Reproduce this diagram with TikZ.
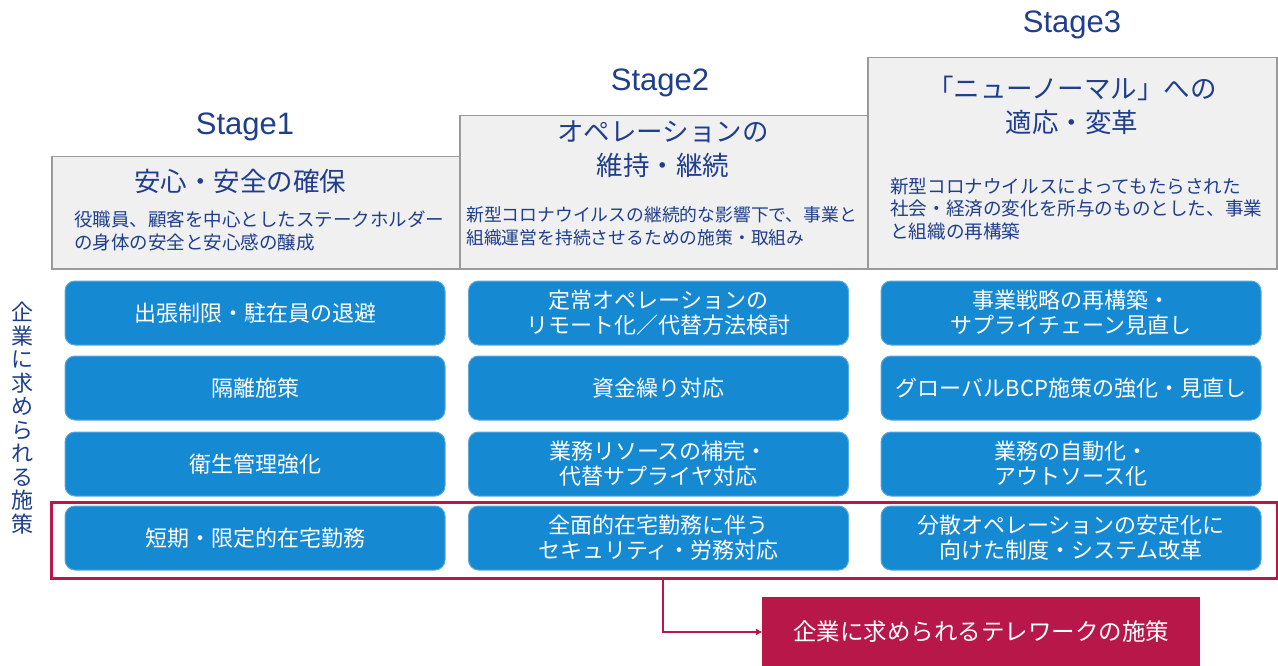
\documentclass[tikz,border=0pt]{standalone}
\usepackage{fontspec}
\setmainfont{Noto Sans CJK JP}
\newfontfamily\stagefont{Liberation Sans}
\usetikzlibrary{arrows.meta}
\definecolor{navy}{HTML}{1F3E8C}
\definecolor{bluebox}{HTML}{1689D3}
\definecolor{blueedge}{HTML}{5AA8E0}
\definecolor{grayfill}{HTML}{F0F0F0}
\definecolor{grayedge}{HTML}{9A9A9A}
\definecolor{crimson}{HTML}{B8174A}
\tikzset{
  graybox/.style={draw=grayedge, line width=1.5pt, fill=grayfill, anchor=north west, inner sep=0pt},
  stagelbl/.style={text=navy, font=\stagefont\fontsize{31pt}{34pt}\selectfont, inner sep=0pt},
  ttl/.style={text=navy, align=center, font=\fontsize{26.5pt}{34pt}\selectfont, inner sep=0pt},
  subtxt/.style={text=navy, align=left, anchor=west, inner sep=0pt, font=\fontsize{18.5pt}{23.5pt}\selectfont},
  bbox/.style={draw=blueedge, line width=1pt, fill=bluebox, rounded corners=10pt, minimum width=380pt, minimum height=64pt, text=white, align=center, inner sep=0pt, font=\fontsize{22pt}{25pt}\selectfont},
  redline/.style={draw=crimson, line width=2pt},
}
\begin{document}
\begin{tikzpicture}[x=1pt,y=-1pt]
\useasboundingbox (0,0) rectangle (1278,666);
% stage labels
\node[stagelbl] (st1) at (245,127) {Stage1};
\node[stagelbl] (st2) at (660,83) {Stage2};
\node[stagelbl] (st3) at (1072,25) {Stage3};
% gray boxes
\node[graybox, minimum width=408pt, minimum height=112pt] (g1) at (51,156) {};
\node[graybox, minimum width=408pt, minimum height=153pt] (g2) at (459,115) {};
\node[graybox, minimum width=409pt, minimum height=211pt] (g3) at (867,57) {};
% titles
\node[ttl] (t1) at (240,181) {安心・安全の確保};
\node[ttl] (t2) at (663,149) {オペレーションの\\維持・継続};
\node[ttl] (t3) at (1072,105) {「ニューノーマル」への\\適応・変革};
% descriptions
\node[subtxt] (s1) at (74,231) {役職員、顧客を中心としたステークホルダー\\の身体の安全と安心感の醸成};
\node[subtxt, font=\fontsize{17.8pt}{23.5pt}\selectfont] (s2) at (466,226.5) {新型コロナウイルスの継続的な影響下で、事業と\\組織運営を持続させるための施策・取組み};
\node[subtxt, font=\fontsize{18.6pt}{22.5pt}\selectfont] (s3) at (890,209) {新型コロナウイルスによってもたらされた\\社会・経済の変化を所与のものとした、事業\\と組織の再構築};
% vertical label
\node[text=navy, align=center, inner sep=0pt, font=\fontsize{22pt}{23.5pt}\selectfont] (vt) at (22,418) {企\\業\\に\\求\\め\\ら\\れ\\る\\施\\策};
% blue boxes
\node[bbox] (a1) at (255,313) {出張制限・駐在員の退避};
\node[bbox] (a2) at (255,388) {隔離施策};
\node[bbox] (a3) at (255,464) {衛生管理強化};
\node[bbox] (a4) at (255,538) {短期・限定的在宅勤務};
\node[bbox] (b1) at (658.5,313) {定常オペレーションの\\リモート化／代替方法検討};
\node[bbox] (b2) at (658.5,388) {資金繰り対応};
\node[bbox] (b3) at (658.5,464) {業務リソースの補完・\\代替サプライヤ対応};
\node[bbox] (b4) at (658.5,538) {全面的在宅勤務に伴う\\セキュリティ・労務対応};
\node[bbox] (c1) at (1071,313) {事業戦略の再構築・\\サプライチェーン見直し};
\node[bbox] (c2) at (1071,388) {グローバルBCP施策の強化・見直し};
\node[bbox] (c3) at (1071,464) {業務の自動化・\\アウトソース化};
\node[bbox] (c4) at (1071,538) {分散オペレーションの安定化に\\向けた制度・システム改革};
% red frame
\node[draw=crimson, line width=3pt, minimum width=1226pt, minimum height=76pt, anchor=north west, inner sep=0pt] (frame) at (50,501) {};
% red result box
\node[fill=crimson, minimum width=438pt, minimum height=70pt, anchor=north west, inner sep=0pt] (rb) at (762,597) {};
\node[text=white, font=\fontsize{23.5pt}{26pt}\selectfont, inner sep=0pt] (rbt) at (981,632) {企業に求められるテレワークの施策};
% connector
\coordinate (fs) at (663,577);
\draw[redline, -{Triangle[length=6pt,width=6pt]}] (fs) |- (rb.west |- 0,632);
\end{tikzpicture}
\end{document}
